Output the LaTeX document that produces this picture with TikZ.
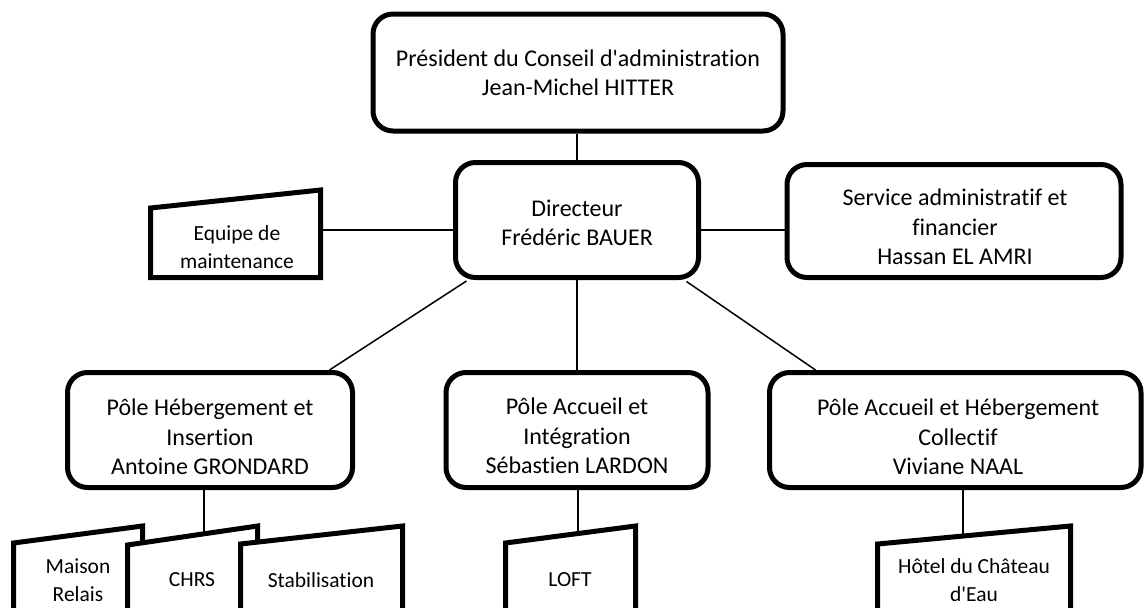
\documentclass[tikz,border=0pt]{standalone}
\usepackage{fontspec}
\setmainfont{Carlito}[Ligatures={TeXOff,NoCommon}]
\usetikzlibrary{calc,backgrounds}
\begin{document}
\begin{tikzpicture}[x=1pt,y=-1pt,
  box/.style={draw, line width=5pt, rounded corners=20pt, fill=white, inner sep=0pt},
  card/.style={draw, line width=5pt, fill=white, line join=miter},
  conn/.style={line width=1.5pt},
  big/.style={font=\fontsize{24}{29.3}\selectfont, align=center, inner sep=0pt},
  small/.style={font=\fontsize{21.5}{27.5}\selectfont, align=center, inner sep=0pt}]
\useasboundingbox (0,0) rectangle (1144,608);
\clip (0,0) rectangle (1144,608);

% boxes
\node[box, minimum width=410pt, minimum height=117pt] (pres) at (578,72.5) {};
\node[box, minimum width=243pt, minimum height=115pt] (dir) at (577,220) {};
\node[box, minimum width=334pt, minimum height=113pt] (serv) at (954,221) {};
\node[box, minimum width=285pt, minimum height=115pt] (poleH) at (210,430) {};
\node[box, minimum width=262pt, minimum height=115pt] (poleA) at (577,430) {};
\node[box, minimum width=371.5pt, minimum height=115pt] (poleAH) at (955.25,430) {};

% trapezoid cards
\draw[card] (150.5,277.5) -- (150.5,208) -- (320.5,190) -- (320.5,277.5) -- cycle;
\coordinate (eqR) at (320.5,230);
\draw[card] (13.5,620) -- (13.5,543) -- (142.5,526) -- (142.5,620);
\draw[card] (127.5,620) -- (127.5,545) -- (257.5,526) -- (257.5,620);
\coordinate (chrsTop) at (204,535);
\draw[card] (240.5,620) -- (240.5,544) -- (402.5,526) -- (402.5,620);
\draw[card] (505.5,620) -- (505.5,543) -- (635.5,526) -- (635.5,620);
\coordinate (loftTop) at (578,535);
\draw[card] (877.5,620) -- (877.5,544) -- (1070.5,526) -- (1070.5,620);
\coordinate (hotelTop) at (963,537);

% texts
\node[big] (pres-t) at (578,73) {Président du Conseil d'administration\\Jean-Michel HITTER};
\node[big] (dir-t) at (577,223) {Directeur\\Frédéric BAUER};
\node[big] (serv-t) at (955,227) {Service administratif et\\financier\\Hassan EL AMRI};
\node[big] (poleH-t) at (210,437) {Pôle Hébergement et\\Insertion\\Antoine GRONDARD};
\node[big] (poleA-t) at (577,436) {Pôle Accueil et\\Intégration\\Sébastien LARDON};
\node[big] (poleAH-t) at (958,437) {Pôle Accueil et Hébergement\\Collectif\\Viviane NAAL};
\node[small] (eq-t) at (237,247) {Equipe de\\maintenance};
\node[small] (mais-t) at (78,580) {Maison\\Relais};
\node[small] (chrs-t) at (192,580) {CHRS};
\node[small] (stab-t) at (321,580) {Stabilisation};
\node[small] (loft-t) at (570,580) {LOFT};
\node[small] (hotel-t) at (974,580) {Hôtel du Château\\d'Eau};

% connectors
\begin{scope}[on background layer]
\draw[conn] (pres.south -| dir.north) -- (dir.north);
\draw[conn] (dir.west |- eqR) -- (eqR);
\draw[conn] (dir.east |- eqR) -- (serv.west |- eqR);
\draw[conn] ($(dir.south west)+(13.5,1)$) -- ($(poleH.north east)+(-25.5,0)$);
\draw[conn] (dir.south) -- (poleA.north);
\draw[conn] ($(dir.south east)+(-14.5,1.5)$) -- ($(poleAH.north west)+(48.5,0)$);
\draw[conn] (poleH.south -| chrsTop) -- (chrsTop);
\draw[conn] (poleA.south -| loftTop) -- (loftTop);
\draw[conn] (poleAH.south -| hotelTop) -- (hotelTop);
\end{scope}
\end{tikzpicture}
\end{document}
